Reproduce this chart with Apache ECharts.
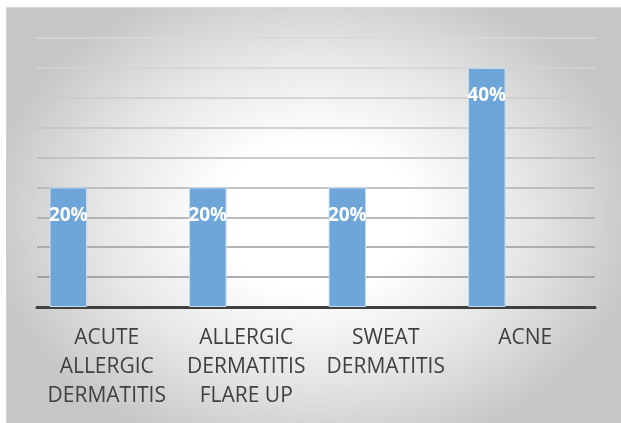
<!DOCTYPE html>
<html>
<head>
<meta charset="utf-8">
<script src="https://cdn.jsdelivr.net/npm/echarts@6/dist/echarts.min.js"></script>
<style>
  html, body { margin: 0; padding: 0; background: #ffffff; }
  #wrap { position: relative; width: 621px; height: 423px; overflow: hidden; }
  #panel {
    position: absolute; left: 6px; top: 7px; width: 640px; height: 440px;
    border-top: 1px solid #d6d6d6; border-left: 1px solid #d0d0d0;
    background: radial-gradient(ellipse 330px 250px at 307px 208px, #ffffff 0%, #ffffff 30%, #e6e6e6 65%, #c6c6c6 100%);
  }
  #chart { position: absolute; left: 0; top: 0; width: 621px; height: 423px; }
</style>
</head>
<body>
<div id="wrap">
  <div id="panel"></div>
  <div id="chart"></div>
</div>
<script>
// Share of cases per skin condition (percent)
const categories = [
  'ACUTE\nALLERGIC\nDERMATITIS',
  'ALLERGIC\nDERMATITIS\nFLARE UP',
  'SWEAT\nDERMATITIS',
  'ACNE'
];
const shares = [20, 20, 20, 40];
// second slot in each category is left empty
const emptySlot = [null, null, null, null];
const yTicks = { min: 0, max: 45, interval: 5 };

// gridline shades from the baseline upwards
const gridShades = ['#8c8c8c', '#939393', '#9b9b9b', '#a5a5a5', '#b0b0b0',
                    '#bababa', '#c3c3c3', '#cbcbcb', '#d3d3d3', '#d8d8d8'];

const chart = echarts.init(document.getElementById('chart'), null, { renderer: 'canvas' });
chart.setOption({
  animation: false,
  backgroundColor: 'transparent',
  grid: { left: 37, right: 26, top: 38, bottom: 116, containLabel: false },
  xAxis: {
    type: 'category',
    data: categories,
    axisLine: { show: true, lineStyle: { color: '#404040', width: 3 } },
    axisTick: { show: false },
    axisLabel: {
      interval: 0,
      margin: 17,
      color: '#404040',
      fontFamily: 'Open Sans',
      fontSize: 21,
      lineHeight: 29,
      align: 'center'
    }
  },
  yAxis: {
    type: 'value',
    min: yTicks.min,
    max: yTicks.max,
    interval: yTicks.interval,
    axisLine: { show: false },
    axisTick: { show: false },
    axisLabel: { show: false },
    splitLine: { show: true, lineStyle: { color: gridShades, width: 1.6 } }
  },
  series: [
    {
      type: 'bar',
      data: shares,
      barWidth: 37.5,
      barGap: '105%',
      itemStyle: { color: '#6fa6d9', borderColor: '#c6ddf1', borderWidth: 1 },
      label: {
        show: true,
        position: ['50%', 28],
        align: 'center',
        verticalAlign: 'middle',
        formatter: '{c}%',
        color: '#ffffff',
        fontFamily: 'Open Sans',
        fontWeight: 'bold',
        fontSize: 19
      },
      z: 3
    },
    {
      type: 'bar',
      data: emptySlot,
      barWidth: 37.5,
      itemStyle: { color: '#ed7d31' }
    }
  ]
});
</script>
</body>
</html>
